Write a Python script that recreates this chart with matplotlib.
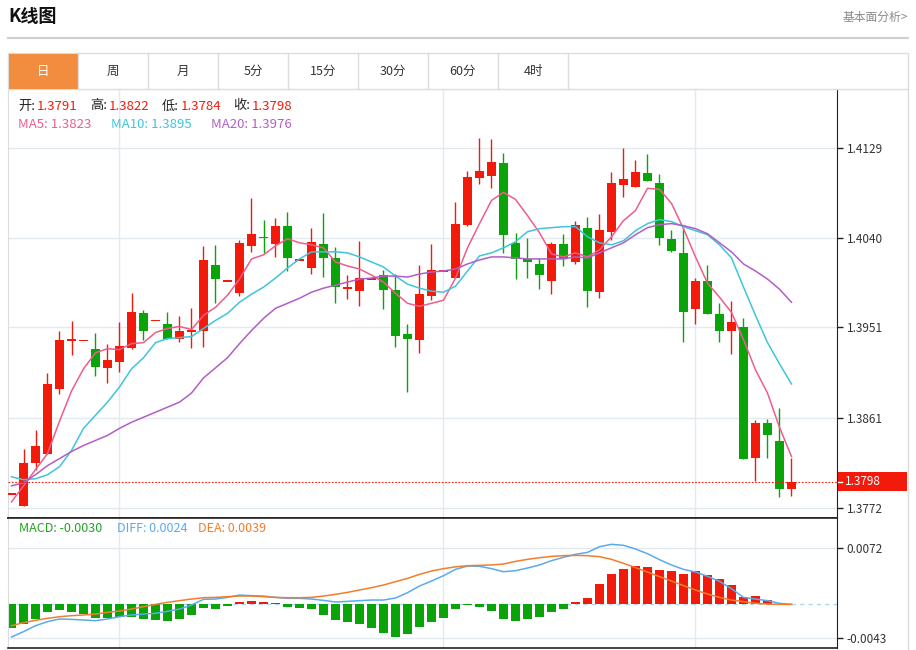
import numpy as np
import matplotlib
matplotlib.use('Agg')
import matplotlib.pyplot as plt
from matplotlib.patches import Rectangle

plt.rcParams['font.family'] = ['Noto Sans CJK SC', 'DejaVu Sans']

# ============================================================================
# DATA
# ============================================================================
opens = [1.3786, 1.3774, 1.3817, 1.3826, 1.3890, 1.3938, 1.3938, 1.3930, 1.3911, 1.3917,
         1.3931, 1.3965, 1.3958, 1.3954, 1.3940, 1.3947, 1.3948, 1.4013, 1.3997, 1.3985,
         1.4032, 1.4041, 1.4034, 1.4052, 1.4018, 1.4010, 1.4034, 1.4020, 1.3989, 1.3987,
         1.3999, 1.4003, 1.3988, 1.3945, 1.3939, 1.3982, 1.4007, 1.4000, 1.4053, 1.4099,
         1.4101, 1.4114, 1.4035, 1.4019, 1.4014, 1.3997, 1.4034, 1.4016, 1.4050, 1.3986,
         1.4046, 1.4092, 1.4090, 1.4104, 1.4094, 1.4039, 1.4025, 1.3969, 1.3997, 1.3964,
         1.3948, 1.3951, 1.3822, 1.3856, 1.3838, 1.3791]
highs = [1.3786, 1.3831, 1.3849, 1.3906, 1.3948, 1.3957, 1.3938, 1.3946, 1.3935, 1.3956,
         1.3985, 1.3968, 1.3958, 1.3966, 1.3962, 1.3970, 1.4032, 1.4033, 1.3997, 1.4038,
         1.4079, 1.4058, 1.4060, 1.4066, 1.4018, 1.4050, 1.4065, 1.4031, 1.4003, 1.4037,
         1.3999, 1.4008, 1.4004, 1.3954, 1.4013, 1.4034, 1.4007, 1.4075, 1.4106, 1.4139,
         1.4138, 1.4124, 1.4045, 1.4040, 1.4020, 1.4036, 1.4044, 1.4057, 1.4061, 1.4064,
         1.4105, 1.4129, 1.4117, 1.4123, 1.4103, 1.4048, 1.4050, 1.4000, 1.4013, 1.3975,
         1.3977, 1.3960, 1.3859, 1.3860, 1.3871, 1.3822]
lows = [1.3786, 1.3774, 1.3810, 1.3826, 1.3885, 1.3924, 1.3938, 1.3903, 1.3896, 1.3907,
        1.3930, 1.3939, 1.3958, 1.3940, 1.3937, 1.3931, 1.3932, 1.3975, 1.3997, 1.3982,
        1.4026, 1.4025, 1.4021, 1.4007, 1.4018, 1.4004, 1.4001, 1.3975, 1.3979, 1.3972,
        1.3999, 1.3969, 1.3932, 1.3887, 1.3926, 1.3978, 1.4007, 1.4000, 1.4052, 1.4093,
        1.4089, 1.4025, 1.3999, 1.4000, 1.3989, 1.3984, 1.4012, 1.4014, 1.3971, 1.3980,
        1.4038, 1.4080, 1.4090, 1.4096, 1.4033, 1.4026, 1.3937, 1.3954, 1.3964, 1.3937,
        1.3925, 1.3821, 1.3799, 1.3822, 1.3783, 1.3784]
closes = [1.3786, 1.3817, 1.3833, 1.3895, 1.3939, 1.3939, 1.3938, 1.3912, 1.3919, 1.3933,
          1.3966, 1.3948, 1.3958, 1.3940, 1.3948, 1.3949, 1.4018, 1.3999, 1.3997, 1.4035,
          1.4044, 1.4040, 1.4052, 1.4020, 1.4018, 1.4036, 1.4020, 1.3991, 1.3991, 1.4000,
          1.3999, 1.3988, 1.3943, 1.3940, 1.3984, 1.4008, 1.4007, 1.4054, 1.4100, 1.4106,
          1.4115, 1.4043, 1.4019, 1.4016, 1.4003, 1.4034, 1.4019, 1.4053, 1.3987, 1.4048,
          1.4094, 1.4098, 1.4105, 1.4096, 1.4040, 1.4027, 1.3966, 1.3997, 1.3964, 1.3948,
          1.3956, 1.3821, 1.3856, 1.3844, 1.3791, 1.3798]

ma5 = [1.3778, 1.3794, 1.3810, 1.3826, 1.3858, 1.3888, 1.3910, 1.3926, 1.3930, 1.3929,
       1.3935, 1.3936, 1.3946, 1.3950, 1.3952, 1.3949, 1.3963, 1.3971, 1.3983, 1.3999,
       1.4019, 1.4023, 1.4032, 1.4039, 1.4035, 1.4033, 1.4030, 1.4016, 1.4012, 1.4009,
       1.4003, 1.3996, 1.3985, 1.3975, 1.3972, 1.3975, 1.3978, 1.4000, 1.4030, 1.4054,
       1.4077, 1.4085, 1.4078, 1.4062, 1.4045, 1.4024, 1.4021, 1.4025, 1.4021, 1.4028,
       1.4041, 1.4057, 1.4067, 1.4089, 1.4088, 1.4074, 1.4049, 1.4021, 1.3995, 1.3981,
       1.3966, 1.3939, 1.3909, 1.3886, 1.3852, 1.3823]
ma10 = [1.3803, 1.3800, 1.3801, 1.3805, 1.3813, 1.3829, 1.3851, 1.3864, 1.3877, 1.3892,
        1.3910, 1.3921, 1.3936, 1.3940, 1.3941, 1.3942, 1.3950, 1.3958, 1.3965, 1.3976,
        1.3984, 1.3991, 1.4000, 1.4010, 1.4019, 1.4026, 1.4026, 1.4026, 1.4025, 1.4021,
        1.4016, 1.4011, 1.4002, 1.3994, 1.3990, 1.3987, 1.3986, 1.3992, 1.4007, 1.4022,
        1.4025, 1.4030, 1.4036, 1.4046, 1.4049, 1.4050, 1.4051, 1.4051, 1.4041, 1.4035,
        1.4033, 1.4037, 1.4047, 1.4054, 1.4058, 1.4056, 1.4051, 1.4047, 1.4043, 1.4033,
        1.4020, 1.3991, 1.3963, 1.3936, 1.3915, 1.3895]
ma20 = [1.3794, 1.3797, 1.3805, 1.3814, 1.3821, 1.3828, 1.3834, 1.3839, 1.3844, 1.3851,
        1.3857, 1.3862, 1.3867, 1.3872, 1.3877, 1.3886, 1.3901, 1.3911, 1.3921, 1.3935,
        1.3948, 1.3960, 1.3970, 1.3975, 1.3980, 1.3986, 1.3990, 1.3993, 1.3996, 1.3999,
        1.4000, 1.4002, 1.4002, 1.4001, 1.4004, 1.4006, 1.4007, 1.4009, 1.4014, 1.4018,
        1.4021, 1.4021, 1.4020, 1.4019, 1.4019, 1.4019, 1.4019, 1.4021, 1.4020, 1.4025,
        1.4030, 1.4035, 1.4043, 1.4050, 1.4053, 1.4054, 1.4052, 1.4049, 1.4044, 1.4035,
        1.4026, 1.4014, 1.4007, 1.3999, 1.3989, 1.3976]

macd_bar = [-0.00307, -0.00251, -0.00187, -0.00102, -0.00068, -0.00102, -0.00128, -0.00179, -0.00179, -0.00158,
            -0.00158, -0.00192, -0.00200, -0.00213, -0.00183, -0.00136, -0.00051, -0.00055, -0.00021, 0.00034,
            0.00043, 0.00030, 0.00017, -0.00030, -0.00043, -0.00064, -0.00132, -0.00196, -0.00226, -0.00256,
            -0.00307, -0.00371, -0.00417, -0.00379, -0.00294, -0.00230, -0.00170, -0.00064, -0.00013, -0.00030,
            -0.00081, -0.00187, -0.00209, -0.00192, -0.00166, -0.00094, -0.00055, 0.00030, 0.00077, 0.00260,
            0.00388, 0.00451, 0.00490, 0.00477, 0.00434, 0.00422, 0.00388, 0.00422, 0.00371, 0.00324,
            0.00247, 0.00089, 0.00106, 0.00055, 0.0, 0.0]
diff = [-0.00417, -0.00349, -0.00273, -0.00221, -0.00187, -0.00192, -0.00200, -0.00209, -0.00187, -0.00158,
        -0.00136, -0.00124, -0.00115, -0.00089, -0.00060, -0.00009, 0.00064, 0.00068, 0.00089, 0.00119,
        0.00111, 0.00106, 0.00089, 0.00077, 0.00077, 0.00068, 0.00051, 0.00030, 0.00038, 0.00047,
        0.00055, 0.00055, 0.00081, 0.00149, 0.00234, 0.00298, 0.00366, 0.00447, 0.00490, 0.00486,
        0.00456, 0.00417, 0.00430, 0.00464, 0.00503, 0.00558, 0.00601, 0.00639, 0.00664, 0.00737,
        0.00767, 0.00754, 0.00707, 0.00647, 0.00571, 0.00503, 0.00447, 0.00413, 0.00358, 0.00294,
        0.00200, 0.00089, 0.00068, 0.00047, 0.00013, 0.0]
dea = [-0.00273, -0.00234, -0.00204, -0.00179, -0.00158, -0.00145, -0.00136, -0.00124, -0.00102, -0.00085,
       -0.00060, -0.00030, 0.0, 0.00026, 0.00047, 0.00068, 0.00085, 0.00089, 0.00098, 0.00106,
       0.00106, 0.00098, 0.00089, 0.00085, 0.00085, 0.00089, 0.00106, 0.00128, 0.00153, 0.00183,
       0.00213, 0.00247, 0.00290, 0.00332, 0.00383, 0.00426, 0.00456, 0.00479, 0.00494, 0.00498,
       0.00503, 0.00515, 0.00549, 0.00575, 0.00596, 0.00613, 0.00622, 0.00626, 0.00622, 0.00609,
       0.00575, 0.00524, 0.00469, 0.00413, 0.00354, 0.00298, 0.00239, 0.00183, 0.00132, 0.00089,
       0.00055, 0.00034, 0.00013, 0.00004, 0.0, 0.0]

price_ticks = [1.4129, 1.4040, 1.3951, 1.3861, 1.3772]
macd_ticks = [0.0072, -0.0043]
period_breaks = [9, 36, 57]   # vertical grid lines (candle index)
last_price = 1.3798
tabs = ['日', '周', '月', '5分', '15分', '30分', '60分', '4时']

# ============================================================================
# STYLE
# ============================================================================
W, H = 916, 650
RED = '#f21b0b'
GREEN = '#0aa30a'
C_MA5 = '#ef5d8c'
C_MA10 = '#3cc6dc'
C_MA20 = '#b25ec8'
C_DIFF = '#5aaaf0'
C_DEA = '#f37d2a'
GRID = '#e2eaf0'
BORDER = '#dcdcdc'

# main panel pixel box and y-range mapping (1.4129 at y=148, 1.3772 at y=508)
px_per_price = 360 / (price_ticks[0] - price_ticks[-1])
px_per_macd = 90 / (macd_ticks[0] - macd_ticks[1])


def fig_box(x0, y0, x1, y1):
    return [x0 / W, 1 - y1 / H, (x1 - x0) / W, (y1 - y0) / H]


fig = plt.figure(figsize=(W / 100, H / 100), dpi=100)

ax = fig.add_axes(fig_box(8, 89, 837, 518), zorder=2)
axm = fig.add_axes(fig_box(8, 518, 837, 648), zorder=2)

n = len(closes)
x = np.arange(n)
o = np.array(opens)
c = np.array(closes)
hi = np.array(highs)
lo = np.array(lows)

x_left = (8 - 11.5) / 12
x_right = (837 - 11.5) / 12

# ---- main panel -------------------------------------------------------------
ax.set_xlim(x_left, x_right)
ax.set_ylim(price_ticks[-1] - 10 / px_per_price, price_ticks[-1] + 419 / px_per_price)

for t in price_ticks:
    ax.axhline(t, color=GRID, lw=1, zorder=0)
for b in period_breaks:
    ax.axvline(b, color=GRID, lw=1, zorder=0)
    axm.axvline(b, color=GRID, lw=1, zorder=0)

colors = [RED if cc >= oo else GREEN for oo, cc in zip(o, c)]
min_h = 1.3 / px_per_price
body_h = np.maximum(np.abs(c - o), min_h)
body_b = np.where(np.abs(c - o) < min_h, (o + c) / 2 - min_h / 2, np.minimum(o, c))
ax.vlines(x, lo, hi, colors=colors, lw=1, zorder=2)
ax.bar(x, body_h, bottom=body_b, width=0.75, color=colors, linewidth=0, zorder=3)

ax.plot(x, ma5, color=C_MA5, lw=1.1, zorder=4)
ax.plot(x, ma10, color=C_MA10, lw=1.1, zorder=4)
ax.plot(x, ma20, color=C_MA20, lw=1.1, zorder=4)

ax.axhline(last_price, color=RED, lw=0.8, ls=(0, (1.5, 1.5)), zorder=5)

ax.set_xticks([])
ax.yaxis.tick_right()
ax.set_yticks(price_ticks)
ax.set_yticklabels([f'{t:.4f}' for t in price_ticks])
ax.tick_params(axis='y', length=4, width=1, color='#222222', labelcolor='#333333',
               labelsize=8.5, pad=3)
ax.spines['top'].set_visible(False)
ax.spines['left'].set_color(BORDER)
ax.spines['right'].set_color('#222222')
ax.spines['bottom'].set_color('#222222')
ax.spines['bottom'].set_linewidth(1.2)

# ---- MACD panel -------------------------------------------------------------
axm.set_xlim(x_left, x_right)
axm.set_ylim(macd_ticks[1] - 10 / px_per_macd, macd_ticks[0] + 30 / px_per_macd)
for t in macd_ticks:
    axm.axhline(t, color=GRID, lw=1, zorder=0)
axm.axhline(0, color='#a9d9f2', lw=1, ls=(0, (3, 3)), zorder=1)

bar_colors = [RED if v > 0 else GREEN for v in macd_bar]
axm.bar(x, macd_bar, width=0.75, color=bar_colors, linewidth=0, zorder=2)
axm.plot(x, diff, color=C_DIFF, lw=1.1, zorder=3)
axm.plot(x, dea, color=C_DEA, lw=1.1, zorder=3)

axm.set_xticks([])
axm.yaxis.tick_right()
axm.set_yticks(macd_ticks)
axm.set_yticklabels([f'{t:.4f}' for t in macd_ticks])
axm.tick_params(axis='y', length=4, width=1, color='#222222', labelcolor='#333333',
                labelsize=8.5, pad=3)
axm.spines['left'].set_color(BORDER)
for s in ['right', 'bottom', 'top']:
    axm.spines[s].set_color('#222222')
axm.spines['top'].set_linewidth(1.2)
axm.spines['bottom'].set_linewidth(1.2)

# ---- overlay: header, tabs, legends ----------------------------------------
top = fig.add_axes([0, 0, 1, 1], zorder=10)
top.set_xlim(0, W)
top.set_ylim(H, 0)
top.axis('off')
top.patch.set_alpha(0)

top.text(8, 17, 'K线图', fontsize=13, fontweight='bold', color='#111111', va='center', ha='left')
top.text(908, 17, '基本面分析>', fontsize=8.5, color='#8a8a8a', va='center', ha='right')
top.plot([8, 908], [37.5, 37.5], color='#cfcfcf', lw=1.5)

# tab strip
top.add_patch(Rectangle((8, 53), 900, 36, fill=False, edgecolor=BORDER, lw=1))
top.add_patch(Rectangle((9, 54), 69, 35, facecolor='#f28c3f', edgecolor='none'))
for k, lab in enumerate(tabs):
    xr = 8 + 70 * (k + 1)
    top.plot([xr, xr], [53, 89], color=BORDER, lw=1)
    top.text(8 + 70 * k + 35, 71.5, lab, fontsize=9, ha='center', va='center',
             color='white' if k == 0 else '#333333')
# outer right frame
top.plot([907.5, 907.5], [89, 650], color=BORDER, lw=1)

# OHLC line
ohlc_items = [('开:', opens[-1], 18), ('高:', highs[-1], 90), ('低:', lows[-1], 162),
              ('收:', closes[-1], 233)]
for lab, val, xp in ohlc_items:
    t = top.text(xp, 106, lab, fontsize=9.5, color='#222222', va='center', ha='left')
    top.text(xp + 19, 106, f'{val:.4f}', fontsize=9.5, color=RED, va='center', ha='left')

top.text(18, 124, f'MA5: {ma5[-1]:.4f}', fontsize=9.5, color=C_MA5, va='center')
top.text(111, 124, f'MA10: {ma10[-1]:.4f}', fontsize=9.5, color=C_MA10, va='center')
top.text(211, 124, f'MA20: {ma20[-1]:.4f}', fontsize=9.5, color=C_MA20, va='center')

top.text(19, 529, 'MACD: -0.0030', fontsize=9, color='#22a322', va='center')
top.text(117, 529, 'DIFF: 0.0024', fontsize=9, color=C_DIFF, va='center')
top.text(198, 529, 'DEA: 0.0039', fontsize=9, color=C_DEA, va='center')

# last price tag on the right axis
y_last = 508 - (last_price - price_ticks[-1]) * px_per_price
top.add_patch(Rectangle((838, y_last - 9.5), 69, 19, facecolor=RED, edgecolor='none'))
top.plot([838, 842], [y_last, y_last], color='white', lw=1)
top.text(845, y_last, f'{last_price:.4f}', fontsize=8.5, color='white', va='center', ha='left')

fig.savefig('out.png', dpi=100)
plt.close(fig)
